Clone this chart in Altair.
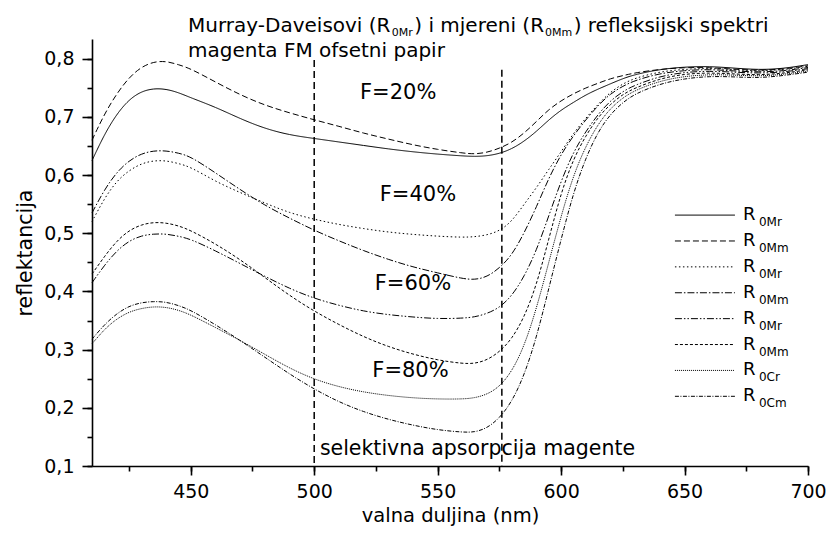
import altair as alt
import pandas as pd

FONT = "DejaVu Sans"

# ---------------- data ----------------
WAVELENGTH = [410, 415, 420, 425, 430, 435, 440, 445, 450,
              460, 470, 480, 490, 500, 510, 520, 530, 540, 550, 560,
              565, 570, 575, 580, 585, 590, 595, 600, 605, 610, 615, 620, 625, 630,
              640, 650, 660, 670, 680, 690, 700]

R0Mr_20 = [0.625, 0.67, 0.705, 0.73, 0.744, 0.749, 0.748, 0.742, 0.733,
           0.717, 0.697, 0.68, 0.669, 0.663, 0.657, 0.651, 0.645, 0.640, 0.636, 0.633,
           0.632, 0.633, 0.637, 0.645, 0.658, 0.675, 0.695, 0.712, 0.725, 0.738, 0.748, 0.757, 0.766, 0.773,
           0.782, 0.786, 0.787, 0.784, 0.781, 0.783, 0.790]
R0Mm_20 = [0.66, 0.705, 0.74, 0.768, 0.786, 0.795, 0.796, 0.790, 0.783,
           0.760, 0.738, 0.720, 0.707, 0.695, 0.684, 0.672, 0.662, 0.652, 0.644, 0.638,
           0.636, 0.639, 0.646, 0.656, 0.672, 0.692, 0.713, 0.728, 0.740, 0.750, 0.758, 0.766, 0.771, 0.776,
           0.782, 0.785, 0.785, 0.782, 0.780, 0.782, 0.788]
R0Mr_40 = [0.52, 0.56, 0.59, 0.608, 0.62, 0.625, 0.625, 0.62, 0.614,
           0.589, 0.57, 0.552, 0.535, 0.524, 0.515, 0.508, 0.502, 0.498, 0.495, 0.493,
           0.494, 0.497, 0.504, 0.52, 0.55, 0.578, 0.61, 0.64, 0.672, 0.698, 0.722, 0.743, 0.757, 0.767,
           0.778, 0.782, 0.784, 0.781, 0.779, 0.781, 0.787]
R0Mm_40 = [0.535, 0.575, 0.605, 0.625, 0.637, 0.642, 0.642, 0.638, 0.632,
           0.604, 0.575, 0.548, 0.526, 0.505, 0.487, 0.47, 0.455, 0.442, 0.432, 0.422,
           0.42, 0.425, 0.44, 0.462, 0.5, 0.545, 0.595, 0.636, 0.668, 0.695, 0.72, 0.74, 0.753, 0.763,
           0.775, 0.780, 0.782, 0.779, 0.777, 0.779, 0.785]
R0Mr_60 = [0.415, 0.445, 0.47, 0.487, 0.496, 0.499, 0.499, 0.495, 0.49,
           0.47, 0.448, 0.426, 0.405, 0.388, 0.376, 0.366, 0.36, 0.356, 0.353, 0.354,
           0.356, 0.362, 0.372, 0.392, 0.425, 0.47, 0.53, 0.59, 0.64, 0.675, 0.705, 0.728, 0.744, 0.755,
           0.77, 0.777, 0.779, 0.777, 0.775, 0.777, 0.783]
R0Mm_60 = [0.43, 0.46, 0.487, 0.505, 0.515, 0.519, 0.518, 0.513, 0.505,
           0.482, 0.455, 0.424, 0.393, 0.366, 0.343, 0.322, 0.305, 0.292, 0.282, 0.276,
           0.276, 0.282, 0.296, 0.318, 0.355, 0.41, 0.49, 0.57, 0.628, 0.668, 0.7, 0.722, 0.739, 0.75,
           0.766, 0.774, 0.776, 0.774, 0.772, 0.775, 0.781]
R0Cr_80 = [0.31, 0.335, 0.353, 0.365, 0.371, 0.374, 0.373, 0.368, 0.36,
           0.338, 0.316, 0.292, 0.268, 0.249, 0.236, 0.227, 0.221, 0.217, 0.215, 0.215,
           0.217, 0.223, 0.236, 0.262, 0.305, 0.37, 0.45, 0.53, 0.6, 0.65, 0.688, 0.715, 0.733, 0.746,
           0.762, 0.77, 0.773, 0.772, 0.77, 0.773, 0.779]
R0Cm_80 = [0.318, 0.343, 0.362, 0.375, 0.381, 0.383, 0.382, 0.376, 0.368,
           0.343, 0.316, 0.287, 0.258, 0.232, 0.21, 0.193, 0.18, 0.17, 0.162, 0.158,
           0.158, 0.165, 0.182, 0.21, 0.255, 0.32, 0.405, 0.49, 0.57, 0.63, 0.675, 0.705, 0.725, 0.74,
           0.757, 0.766, 0.77, 0.769, 0.767, 0.771, 0.777]

SERIES_IDS = ["s1", "s2", "s3", "s4", "s5", "s6", "s7", "s8"]
SERIES_VALUES = [R0Mr_20, R0Mm_20, R0Mr_40, R0Mm_40, R0Mr_60, R0Mm_60, R0Cr_80, R0Cm_80]
LEGEND_SUB = ["0Mr", "0Mm", "0Mr", "0Mm", "0Mr", "0Mm", "0Cr", "0Cm"]

F_LABELS = ["F=20%", "F=40%", "F=60%", "F=80%"]
F_NM = [534, 542, 540, 539]
F_R = [0.742, 0.566, 0.413, 0.263]

BAND_NM = [500, 576]
BAND_TOP = [0.798, 0.781]

TITLE_LINE1 = [("Murray-Daveisovi (R", False), ("0Mr", True), (") i mjereni (R", False),
               ("0Mm", True), (") refleksijski spektri", False)]
TITLE_LINE2 = "magenta FM ofsetni papir"
BAND_TEXT = "selektivna apsorpcija magente"

X_MAJOR = [450, 500, 550, 600, 650, 700]
X_MINOR = [425, 450, 475, 500, 525, 550, 575, 600, 625, 650, 675, 700]
Y_MAJOR = [0.1, 0.2, 0.3, 0.4, 0.5, 0.6, 0.7, 0.8]
Y_MINOR = [0.1, 0.15, 0.2, 0.25, 0.3, 0.35, 0.4, 0.45, 0.5, 0.55, 0.6, 0.65, 0.7, 0.75, 0.8]

# ---------------- styles ----------------
DASHES = [[1, 0], [6, 3], [1.5, 2.5], [7, 2, 1.5, 2], [7, 2, 1.5, 2, 1.5, 2],
          [3, 2], [1, 1], [4, 1.5, 1, 1.5]]

# DejaVu Sans advance widths (em) for offset computation of title pieces
W = {' ': .318, '(': .390, ')': .390, '-': .361, '0': .636, 'D': .770, 'M': .863, 'R': .695,
     'C': .698, 'a': .613, 'c': .550, 'd': .635, 'e': .615, 'f': .352, 'i': .278, 'j': .278,
     'k': .579, 'l': .278, 'm': .974, 'n': .634, 'o': .612, 'p': .635, 'r': .411, 's': .521,
     't': .392, 'u': .634, 'v': .592, 'y': .592}


def text_w(s, size):
    return sum(W.get(ch, .6) for ch in s) * size


rows = []
for sid, vals in zip(SERIES_IDS, SERIES_VALUES):
    for w, v in zip(WAVELENGTH, vals):
        rows.append({"series": sid, "nm": w, "R": v})
df = pd.DataFrame(rows)

x_scale = alt.Scale(domain=[410, 700], nice=False, zero=False)
y_scale = alt.Scale(domain=[0.1, 0.834], nice=False, zero=False)
dash_scale = alt.Scale(domain=SERIES_IDS, range=DASHES)

common = dict(grid=False, domainColor="black", domainWidth=1.6, tickColor="black", tickWidth=1.6)

x_axis_major = alt.Axis(
    values=X_MAJOR, title="valna duljina (nm)", orient="bottom", tickSize=9,
    labelFont=FONT, labelFontSize=19, labelColor="black", labelPadding=7,
    titleFont=FONT, titleFontSize=19.5, titleFontWeight="normal", titleColor="black",
    titlePadding=5, labelFlush=False, labelOverlap=False, **common)
y_axis_major = alt.Axis(
    values=Y_MAJOR, title="reflektancija", orient="left", tickSize=10,
    labelExpr="replace(format(datum.value, '.1f'), '.', ',')",
    labelFont=FONT, labelFontSize=19, labelColor="black", labelPadding=8,
    titleFont=FONT, titleFontSize=20.5, titleFontWeight="normal", titleColor="black",
    titlePadding=8, labelFlush=False, labelOverlap=False, **common)
x_axis_minor = alt.Axis(values=X_MINOR, title=None, orient="bottom", tickSize=5, labels=False,
                        domain=False, grid=False, tickColor="black", tickWidth=1.6)
y_axis_minor = alt.Axis(values=Y_MINOR, title=None, orient="left", tickSize=5, labels=False,
                        domain=False, grid=False, tickColor="black", tickWidth=1.6)


def X(field):
    return alt.X(field, scale=x_scale, axis=None)


def Y(field):
    return alt.Y(field, scale=y_scale, axis=None)


lines = alt.Chart(df).mark_line(color="black", strokeWidth=1, interpolate="basis").encode(
    x=alt.X("nm:Q", scale=x_scale, axis=x_axis_major),
    y=alt.Y("R:Q", scale=y_scale, axis=y_axis_major),
    strokeDash=alt.StrokeDash("series:N", scale=dash_scale, legend=None),
    detail="series:N",
)

band_df = pd.DataFrame({"nm": BAND_NM, "top": BAND_TOP, "bottom": [0.1, 0.1]})
band = alt.Chart(band_df).mark_rule(color="black", strokeWidth=1.5, strokeDash=[7, 4]).encode(
    x=alt.X("nm:Q", scale=x_scale, axis=x_axis_minor),
    y=alt.Y("top:Q", scale=y_scale, axis=y_axis_minor),
    y2="bottom:Q")

f_df = pd.DataFrame({"label": F_LABELS, "nm": F_NM, "R": F_R})
f_text = alt.Chart(f_df).mark_text(font=FONT, fontSize=21, align="center", baseline="middle",
                                   color="black").encode(x=X("nm:Q"), y=Y("R:Q"), text="label:N")

band_text = alt.Chart(pd.DataFrame({"t": [BAND_TEXT], "nm": [502.3], "R": [0.129]})).mark_text(
    font=FONT, fontSize=20.5, align="left", baseline="middle", color="black").encode(
    x=X("nm:Q"), y=Y("R:Q"), text="t:N")

# title pieces
TITLE_NM = 448.9
title_layers = []
off = 0.0
for txt, sub in TITLE_LINE1:
    size = 11 if sub else 20
    yv = 0.8392 if sub else 0.8461
    t = alt.Chart(pd.DataFrame({"t": [txt], "nm": [TITLE_NM], "R": [yv]})).mark_text(
        font=FONT, fontSize=size, align="left", baseline="alphabetic", color="black", dx=off).encode(
        x=X("nm:Q"), y=Y("R:Q"), text="t:N")
    title_layers.append(t)
    off += text_w(txt, size) + (1.5 if sub else 0.5)
title_layers.append(
    alt.Chart(pd.DataFrame({"t": [TITLE_LINE2], "nm": [TITLE_NM], "R": [0.8023]})).mark_text(
        font=FONT, fontSize=20, align="left", baseline="alphabetic", color="black").encode(
        x=X("nm:Q"), y=Y("R:Q"), text="t:N"))

# legend
LEG_TOP = 0.5313
LEG_STEP = 0.0445
leg_df = pd.DataFrame({
    "series": SERIES_IDS,
    "sub": LEGEND_SUB,
    "main": ["R"] * len(SERIES_IDS),
    "R": [LEG_TOP - i * LEG_STEP for i in range(len(SERIES_IDS))],
    "x1": [646.1] * len(SERIES_IDS),
    "x2": [670.4] * len(SERIES_IDS),
})
leg_lines = alt.Chart(leg_df).mark_rule(color="black", strokeWidth=1).encode(
    x=X("x1:Q"), x2="x2:Q", y=Y("R:Q"),
    strokeDash=alt.StrokeDash("series:N", scale=dash_scale, legend=None))
leg_R = alt.Chart(leg_df).mark_text(font=FONT, fontSize=18, align="left", baseline="middle",
                                     color="black", dx=8).encode(x=X("x2:Q"), y=Y("R:Q"), text="main:N")
leg_sub = alt.Chart(leg_df).mark_text(font=FONT, fontSize=12, align="left", baseline="alphabetic",
                                       color="black", dx=24, dy=11).encode(x=X("x2:Q"), y=Y("R:Q"), text="sub:N")

chart = alt.layer(band, lines, f_text, band_text, *title_layers, leg_lines, leg_R, leg_sub).resolve_axis(
    x="independent", y="independent"
).properties(
    width=716, height=427,
    padding={"left": 84, "top": 31, "right": 18, "bottom": 65},
    autosize=alt.AutoSizeParams(type="none"),
    background="white",
).configure_view(stroke=None)

chart.save("out.html", embed_options={"renderer": "svg", "actions": False})
